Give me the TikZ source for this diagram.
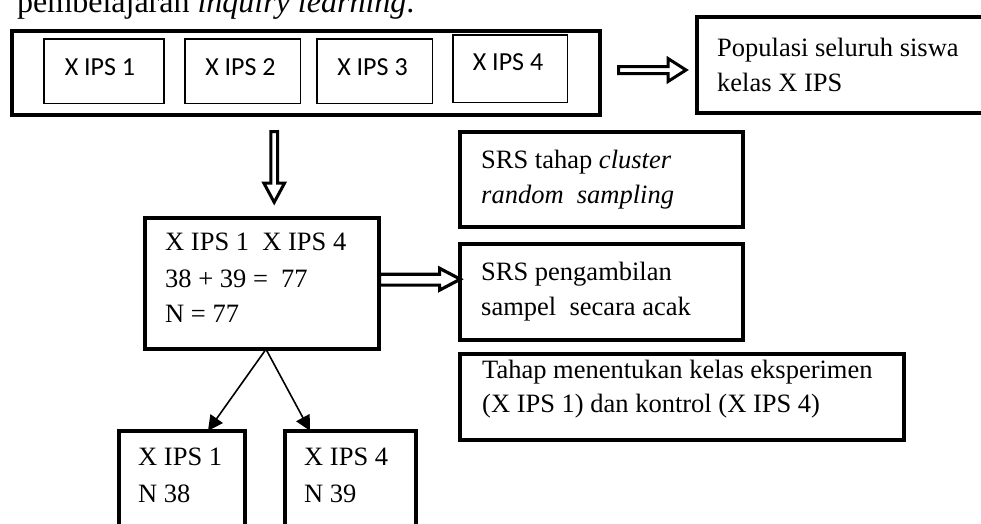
\documentclass[tikz,border=0pt]{standalone}
\usepackage{fontspec}
\setmainfont{Liberation Serif}
\newfontfamily\calfont{Carlito}
\usetikzlibrary{arrows.meta,calc}
\begin{document}
\begin{tikzpicture}[x=1pt,y=-1pt,
  thickbox/.style={draw, line width=3.6pt, inner sep=0pt, outer sep=0pt, anchor=north west},
  thinbox/.style={draw, line width=1.6pt, inner sep=0pt, outer sep=0pt, anchor=north west},
  txt/.style={anchor=base west, inner sep=0pt, font=\fontsize{26.5}{36}\selectfont},
  ctxt/.style={anchor=base, inner sep=0pt, font=\calfont\fontsize{26}{30}\selectfont},
  blockarrow/.style={draw, line width=3pt, miter limit=10, line join=miter, fill=white},
  link/.style={line width=1.6pt, -{Triangle[length=15pt,width=15pt]}}]
\useasboundingbox (0,0) rectangle (981,523);
\clip (0,0) rectangle (981,523);

% cut-off line of body text
\node[anchor=base west, inner sep=0pt, font=\fontsize{32}{38}\selectfont] (intro) at (17,12) {pembelajaran \textit{inquiry learning}.};

% population row
\node[thickbox, minimum width=588.4pt, minimum height=84.4pt] (row) at (11.8,30.8) {};
\node[thinbox, minimum width=120pt, minimum height=64.5pt] (k1) at (43.8,38.8) {};
\node[thinbox, minimum width=115.5pt, minimum height=64.5pt] (k2) at (184.8,38.8) {};
\node[thinbox, minimum width=115.5pt, minimum height=64.5pt] (k3) at (316.8,38.8) {};
\node[thinbox, minimum width=114.5pt, minimum height=67.5pt] (k4) at (452.8,34.8) {};
\node[ctxt] (k1t) at (100,75) {X IPS 1};
\node[ctxt] (k2t) at (240.5,75) {X IPS 2};
\node[ctxt] (k3t) at (372.5,75) {X IPS 3};
\node[ctxt] (k4t) at (508,70) {X IPS 4};

% population description
\node[thickbox, minimum width=303pt, minimum height=96.4pt] (pop) at (696.8,16.8) {};
\node[txt] (pop1) at (717,56) {Populasi seluruh siswa};
\node[txt] (pop2) at (717,91) {kelas X IPS};

% block arrow row -> pop
\draw[blockarrow] (618.5,66.5) -- (668,66.5) -- (668,58.5) -- (686,70) -- (668,81.5) -- (668,73.5) -- (618.5,73.5) -- cycle;

% block arrow row -> middle
\draw[blockarrow] (270.8,131.5) -- (277.6,131.5) -- (277.6,183) -- (284.6,183) -- (274.2,202.3) -- (263.8,183) -- (270.8,183) -- cycle;

% SRS cluster
\node[thickbox, minimum width=283.4pt, minimum height=95.4pt] (srs1) at (459.8,131.8) {};
\node[txt] (srs1a) at (481,168) {SRS tahap \textit{cluster}};
\node[txt] (srs1b) at (481,203) {\textit{random~~sampling}};

% middle box
\node[thickbox, minimum width=234.4pt, minimum height=131.4pt] (mid) at (144.8,217.8) {};
\node[txt] (mida) at (165,250) {X IPS 1~~X IPS 4};
\node[txt] (midb) at (165,287) {38 + 39 =~~77};
\node[txt] (midc) at (165,322) {N = 77};

% SRS sampling
\node[thickbox, minimum width=283.4pt, minimum height=96.4pt] (srs2) at (459.8,243.8) {};
\node[txt] (srs2a) at (481,280) {SRS pengambilan};
\node[txt] (srs2b) at (481,315) {sampel~~secara acak};

% block arrow middle -> SRS sampling
\draw[blockarrow, line width=3.2pt] (379.5,274.3) -- (439.6,274.3) -- (439.6,268.3) -- (460.3,279.2) -- (439.6,290.1) -- (439.6,285.1) -- (379.5,285.1) -- cycle;

% Tahap box
\node[thickbox, minimum width=444.4pt, minimum height=86.4pt] (tahap) at (459.8,353.8) {};
\node[txt] (tahapa) at (482,378) {Tahap menentukan kelas eksperimen};
\node[txt] (tahapb) at (482,412) {(X IPS 1) dan kontrol (X IPS 4)};

% bottom boxes
\node[thickbox, minimum width=126.4pt, minimum height=110pt] (b1) at (118.8,430.8) {};
\node[txt] (b1a) at (138,465) {X IPS 1};
\node[txt] (b1b) at (138,502) {N 38};
\node[thickbox, minimum width=131.4pt, minimum height=110pt] (b2) at (284.8,430.8) {};
\node[txt] (b2a) at (304,465) {X IPS 4};
\node[txt] (b2b) at (304,502) {N 39};

\draw[link] ($(mid.south)+(4,0)$) -- ($(b1.north west)+(89.2,0)$);
\draw[link] ($(mid.south)+(4,0)$) -- ($(b2.north west)+(25.2,0)$);
\end{tikzpicture}
\end{document}
